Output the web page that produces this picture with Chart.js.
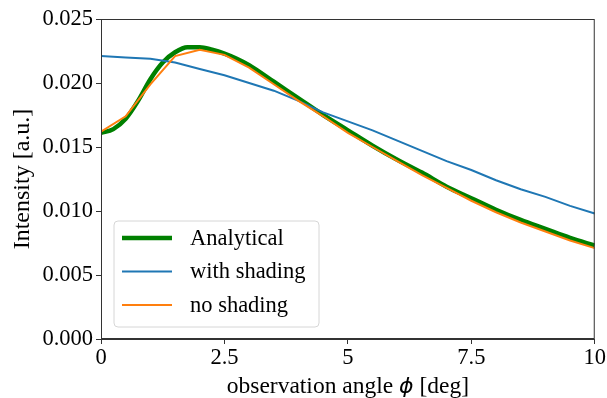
<!DOCTYPE html>
<html>
<head>
<meta charset="utf-8">
<script src="https://cdn.jsdelivr.net/npm/chart.js@4.4.1/dist/chart.umd.min.js"></script>
<style>
  html, body { margin: 0; padding: 0; background: #fff; }
  canvas { display: block; }
</style>
</head>
<body>
<canvas id="intensityChart" width="607" height="398"></canvas>
<script>
// ===== DATA =====
const seriesNames = ["Analytical", "with shading", "no shading"];

// analytical curve (finer sampling)
const anglesAnalytical = [0, 0.25, 0.5, 0.75, 1, 1.25, 1.5, 1.75, 2, 2.25, 2.5, 2.75, 3,
  3.5, 4, 4.5, 5, 5.5, 6, 6.5, 7, 7.5, 8, 8.5, 9, 9.5, 10];
const analytical = [0.0161, 0.0164, 0.0172, 0.0186, 0.0203, 0.0216, 0.0224, 0.0228, 0.0228, 0.0226, 0.0223, 0.0219, 0.0214,
  0.0201, 0.0188, 0.0175, 0.0163, 0.0151, 0.0140, 0.0130, 0.0119, 0.0110, 0.0101, 0.0093, 0.0086, 0.0079, 0.0073];

// simulations
const anglesSim = [0, 0.5, 1, 1.5, 2, 2.5, 3, 3.5, 4, 4.5, 5, 5.5, 6, 6.5, 7, 7.5, 8, 8.5, 9, 9.5, 10];
const withShading = [0.0221, 0.0220, 0.0219, 0.0216, 0.0211, 0.0206, 0.0200, 0.0194, 0.0186, 0.0177, 0.0170,
  0.0163, 0.0155, 0.0147, 0.0139, 0.0132, 0.0124, 0.0117, 0.0111, 0.0104, 0.0098];
const noShading = [0.0162, 0.0174, 0.0199, 0.0221, 0.0226, 0.0222, 0.0212, 0.0199, 0.0186, 0.0174, 0.0161,
  0.0150, 0.0139, 0.0128, 0.0118, 0.0108, 0.0099, 0.0091, 0.0084, 0.0077, 0.0071];

const xTicks = [0, 2.5, 5, 7.5, 10];
const xTickLabels = ["0", "2.5", "5", "7.5", "10"];
const yTickLabels = ["0.000", "0.005", "0.010", "0.015", "0.020", "0.025"];
const xTitleParts = ["observation angle ", "\u03d5", " [deg]"];

const colors = ["#008000", "#1f77b4", "#ff7f0e"];
const widths = [4.5, 2, 2];

const serif = "'Liberation Serif', 'Times New Roman', serif";

function toPoints(xs, ys) {
  return xs.map((x, i) => ({ x: x, y: ys[i] }));
}

// box around the axes, x title with italic phi, legend inside the plot
const framePlugin = {
  id: "frame",
  afterDraw(chart) {
    const { ctx, chartArea: a } = chart;
    ctx.save();
    ctx.strokeStyle = "#333";
    ctx.lineWidth = 1;
    ctx.strokeRect(a.left + 0.5, a.top + 0.5, a.right - a.left - 1, a.bottom - a.top - 1);

    // x axis title
    const fonts = ["23.5px " + serif, "italic 22px 'DejaVu Sans'", "23.5px " + serif];
    let total = 0;
    xTitleParts.forEach((t, i) => { ctx.font = fonts[i]; total += ctx.measureText(t).width; });
    let tx = (a.left + a.right) / 2 - total / 2;
    ctx.fillStyle = "#000";
    ctx.textBaseline = "alphabetic";
    xTitleParts.forEach((t, i) => {
      ctx.font = fonts[i];
      ctx.fillText(t, tx, 393);
      tx += ctx.measureText(t).width;
    });

    // legend
    const bx = 114, by = 221, bw = 205, bh = 106, r = 4;
    ctx.beginPath();
    ctx.moveTo(bx + r, by);
    ctx.arcTo(bx + bw, by, bx + bw, by + bh, r);
    ctx.arcTo(bx + bw, by + bh, bx, by + bh, r);
    ctx.arcTo(bx, by + bh, bx, by, r);
    ctx.arcTo(bx, by, bx + bw, by, r);
    ctx.closePath();
    ctx.fillStyle = "rgba(255,255,255,0.85)";
    ctx.fill();
    ctx.strokeStyle = "#d6d6d6";
    ctx.lineWidth = 1;
    ctx.stroke();

    ctx.font = "22.5px " + serif;
    ctx.textBaseline = "middle";
    chart.data.datasets.forEach((ds, i) => {
      const y = by + 17 + i * 33.5;
      ctx.strokeStyle = ds.borderColor;
      ctx.lineWidth = ds.borderWidth;
      ctx.beginPath();
      ctx.moveTo(122, y);
      ctx.lineTo(172, y);
      ctx.stroke();
      ctx.fillStyle = "#000";
      ctx.fillText(ds.label, 190, y + 1);
    });
    ctx.restore();
  }
};

new Chart(document.getElementById("intensityChart"), {
  type: "line",
  data: {
    datasets: [
      { label: seriesNames[0], data: toPoints(anglesAnalytical, analytical), order: 3,
        cubicInterpolationMode: "monotone" },
      { label: seriesNames[1], data: toPoints(anglesSim, withShading), order: 2, tension: 0 },
      { label: seriesNames[2], data: toPoints(anglesSim, noShading), order: 1, tension: 0 }
    ].map((ds, i) => Object.assign(ds, {
      borderColor: colors[i],
      backgroundColor: colors[i],
      borderWidth: widths[i],
      pointRadius: 0,
      fill: false
    }))
  },
  options: {
    responsive: false,
    animation: false,
    layout: { padding: { top: 19, right: 12, bottom: 0, left: 0 } },
    plugins: {
      legend: { display: false },
      tooltip: { enabled: false }
    },
    scales: {
      x: {
        type: "linear",
        min: 0,
        max: 10,
        afterBuildTicks: scale => { scale.ticks = xTicks.map(v => ({ value: v })); },
        afterFit: scale => { scale.height = 59; },
        ticks: {
          color: "#000",
          font: { family: serif, size: 22.5 },
          padding: 1,
          maxRotation: 0,
          callback: (v) => xTickLabels[xTicks.indexOf(v)]
        },
        grid: { drawOnChartArea: false, tickLength: 5, tickColor: "#333" },
        border: { color: "#333" }
      },
      y: {
        min: 0,
        max: 0.025,
        afterBuildTicks: scale => { scale.ticks = yTickLabels.map(t => ({ value: parseFloat(t) })); },
        afterFit: scale => { scale.width = 101; },
        ticks: {
          color: "#000",
          font: { family: serif, size: 22.5 },
          padding: 3,
          callback: (v) => yTickLabels.find(t => Math.abs(parseFloat(t) - v) < 1e-9)
        },
        grid: { drawOnChartArea: false, tickLength: 5, tickColor: "#333" },
        border: { color: "#333" },
        title: {
          display: true,
          text: "Intensity [a.u.]",
          color: "#000",
          font: { family: serif, size: 24 },
          padding: { top: 8, bottom: 0 }
        }
      }
    }
  },
  plugins: [framePlugin]
});
</script>
</body>
</html>
